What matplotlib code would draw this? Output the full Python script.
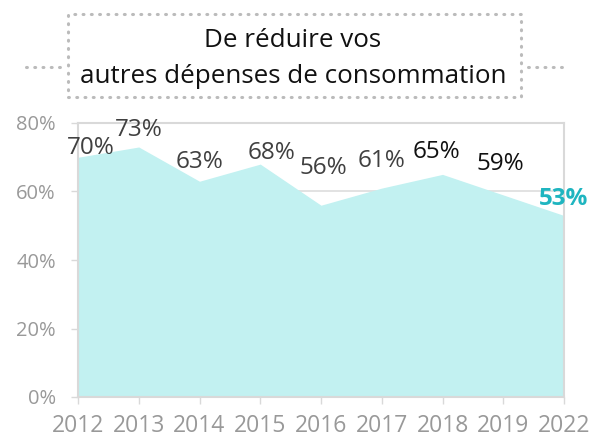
import matplotlib
matplotlib.use("Agg")
import matplotlib.pyplot as plt
from matplotlib.patches import Rectangle
from matplotlib.lines import Line2D

years = ["2012", "2013", "2014", "2015", "2016", "2017", "2018", "2019", "2022"]
values = [70, 73, 63, 68, 56, 61, 65, 59, 53]
label_colors = ["#404040", "#404040", "#404040", "#404040", "#404040", "#404040", "#111111", "#111111", "#1fb5c0"]
label_dx = [13, 0, 0, 11, 2, 0, -6, -3, 0]      # pixel offsets of value labels
label_dy = [9, 17, 19, 11, 37, 27, 22, 31, 16]
yticks = [0, 20, 40, 60, 80]
title_lines = ["De réduire vos", "autres dépenses de consommation"]

plt.rcParams['font.family'] = ['Open Sans', 'DejaVu Sans']

fig = plt.figure(figsize=(5.95, 4.37), dpi=100)
W, H = 595, 437
ax = fig.add_axes([78 / W, 1 - 397 / H, (564 - 78) / W, (397 - 123) / H])
x = list(range(len(years)))
ax.fill_between(x, values, 0, color="#c2f1f1", lw=0, zorder=3)
ax.set_xlim(0, len(years) - 1)
ax.set_ylim(0, 80)
ax.set_yticks(yticks)
ax.set_yticklabels([f"{v}%" for v in yticks])
ax.set_xticks(x)
ax.set_xticklabels(years)
ax.set_axisbelow(True)
ax.grid(axis="y", color="#dddddd", lw=1.2, zorder=1)
for s in ax.spines.values():
    s.set_color("#d9d9d9")
    s.set_linewidth(1.5)
    s.set_zorder(4)
ax.tick_params(axis="both", colors="#d9d9d9", labelcolor="#999999", length=5, width=1)
ax.tick_params(axis="x", pad=7, labelsize=16.5)
ax.tick_params(axis="y", pad=11, labelsize=14.5)

for i, v in enumerate(values):
    ax.annotate(f"{v}%", (i, v), xytext=(label_dx[i] * 0.72, label_dy[i] * 0.72),
                textcoords="offset points", ha="center", va="center",
                fontsize=17.5, color=label_colors[i],
                fontweight="bold" if i == len(values) - 1 else "normal", zorder=6)

# title box with dotted frame
dot = dict(color="#bbbbbb", lw=2.2, ls=(0, (0.3, 2.4)), dash_capstyle="round")
fig.patches.append(Rectangle((68 / W, 1 - 97 / H), (521 - 68) / W, (97 - 14) / H,
                             transform=fig.transFigure, fill=False, ec="#bbbbbb",
                             lw=2.2, ls=(0, (0.3, 2.4)), capstyle="round"))
for xa, xb in [(26, 63), (528, 565)]:
    fig.lines.append(Line2D([xa / W, xb / W], [1 - 67 / H, 1 - 67 / H],
                            transform=fig.transFigure, **dot))
fig.text(293 / W, 1 - 47 / H, title_lines[0], ha="center", va="baseline",
         fontsize=18.7, color="#111111")
fig.text(293 / W, 1 - 83 / H, title_lines[1], ha="center", va="baseline",
         fontsize=18.7, color="#111111")

fig.savefig("out.png", dpi=100)
